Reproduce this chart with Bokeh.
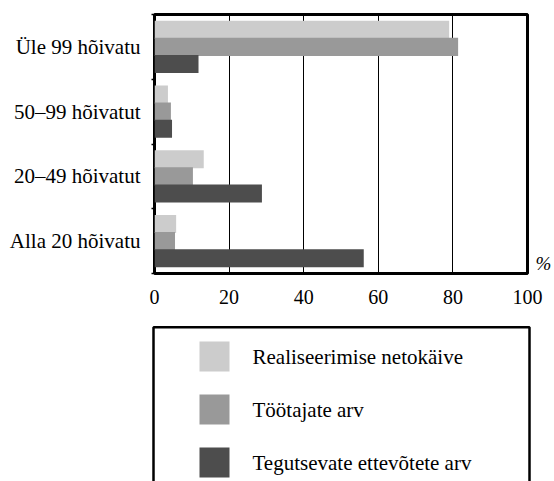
from bokeh.plotting import figure
from bokeh.models import Range1d, FixedTicker, LinearAxis, ColumnDataSource
from bokeh.core.properties import value
from bokeh.embed import file_html
from bokeh.resources import INLINE

# ---- data ----
categories = ["Üle 99 hõivatu", "50–99 hõivatut", "20–49 hõivatut", "Alla 20 hõivatu"]
series_names = ["Realiseerimise netokäive", "Töötajate arv", "Tegutsevate ettevõtete arv"]
netokaive = [79.0, 3.6, 13.2, 5.8]
tootajad = [81.4, 4.4, 10.3, 5.5]
ettevotted = [11.8, 4.7, 28.8, 56.1]
x_ticks = [0, 20, 40, 60, 80, 100]
unit_label = "%"

colors = ["#cccccc", "#999999", "#4d4d4d"]
FONT = "'Liberation Serif', 'Times New Roman', Times, serif"

n = len(categories)
centers = [n - i - 0.5 for i in range(n)]  # first category at the top
offsets = [0.265, 0.0, -0.265]

p = figure(width=554, height=316, x_range=Range1d(0, 100), y_range=Range1d(0, n),
           output_backend="svg", toolbar_location=None,
           min_border_left=154, min_border_right=24, min_border_top=14, min_border_bottom=43)

for vals, col, off in zip([netokaive, tootajad, ettevotted], colors, offsets):
    src = ColumnDataSource(dict(y=[c + off for c in centers], right=vals))
    p.hbar(y="y", right="right", left=0, height=0.28, fill_color=col, line_color=None, source=src)

p.outline_line_color = "black"
p.outline_line_width = 3
p.outline_line_alpha = 1

p.xgrid.ticker = FixedTicker(ticks=x_ticks[1:-1])
p.xgrid.grid_line_color = "black"
p.xgrid.grid_line_width = 1
p.ygrid.visible = False

xa = p.xaxis[0]
xa.ticker = FixedTicker(ticks=x_ticks, minor_ticks=[])
xa.axis_line_color = None
xa.major_tick_out = 0
xa.major_tick_in = 0
xa.minor_tick_line_color = None
xa.major_label_standoff = 16
xa.major_label_text_font = FONT
xa.major_label_text_font_size = "20px"
xa.major_label_text_color = "black"

ya = p.yaxis[0]
ya.ticker = FixedTicker(ticks=centers, minor_ticks=list(range(n + 1)))
ya.major_label_overrides = {c: cat for c, cat in zip(centers, categories)}
ya.axis_line_color = None
ya.major_tick_out = 0
ya.major_tick_in = 0
ya.minor_tick_out = 3
ya.minor_tick_in = 0
ya.minor_tick_line_color = "black"
ya.minor_tick_line_width = 1.5
ya.major_label_standoff = 11
ya.major_label_text_font = FONT
ya.major_label_text_font_size = "21px"
ya.major_label_text_color = "black"

# unit "%" at the right of the frame, near the bottom
pct_pos = 0.155
ra = LinearAxis(ticker=FixedTicker(ticks=[pct_pos], minor_ticks=[]),
                major_label_overrides={pct_pos: unit_label})
ra.axis_line_color = None
ra.major_tick_out = 0
ra.major_tick_in = 0
ra.minor_tick_line_color = None
ra.major_label_standoff = 8
ra.major_label_text_font = FONT
ra.major_label_text_font_style = "italic"
ra.major_label_text_font_size = "19px"
ra.major_label_text_color = "black"
p.add_layout(ra, "right")

# ---- legend panel (separate root, directly below) ----
LH = 165
q = figure(width=554, height=LH, x_range=Range1d(0, 554), y_range=Range1d(LH, 0),
           output_backend="svg", toolbar_location=None,
           min_border=0, min_border_left=0, min_border_right=0,
           min_border_top=0, min_border_bottom=0,
           x_axis_type=None, y_axis_type=None, outline_line_color=None)
for g in q.grid:
    g.visible = False

q.quad(left=153, right=529, top=10.7, bottom=LH + 40, fill_color=None,
       line_color="black", line_width=2.5)

k = list(range(len(series_names)))
leg = ColumnDataSource(dict(
    top=[25 + 53 * i for i in k],
    bottom=[55 + 53 * i for i in k],
    ty=[40 + 53 * i for i in k],
    color=colors,
    label=series_names,
))
q.quad(left=199, right=229, top="top", bottom="bottom", fill_color="color",
       line_color=None, source=leg)
q.text(x=252, y="ty", text="label", text_font=value(FONT), text_font_size="21px",
       text_baseline="middle", text_align="left", text_color="black", source=leg)

open("out.html", "w").write(file_html([p, q], INLINE))
